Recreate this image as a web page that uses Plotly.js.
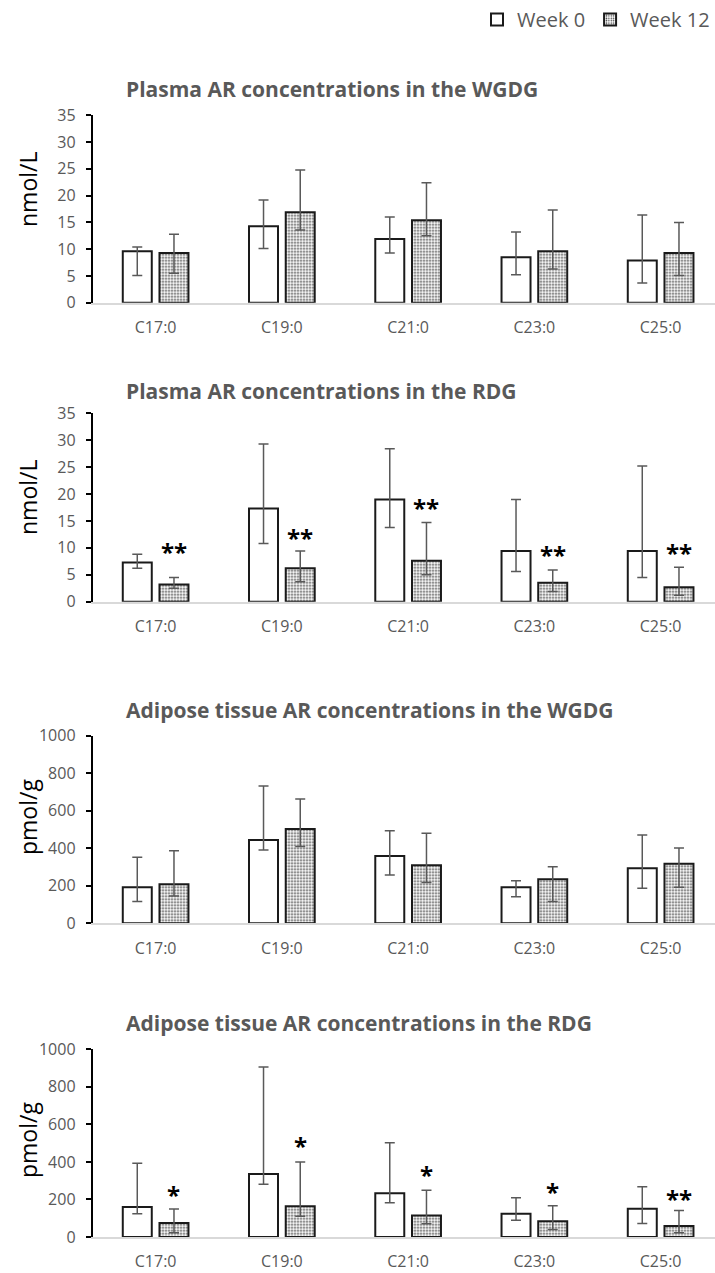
<!DOCTYPE html>
<html>
<head>
<meta charset="utf-8">
<script src="https://cdn.plot.ly/plotly-3.0.1.min.js"></script>
<style>html,body{margin:0;padding:0;background:#fff;}#chart{width:715px;height:1273px;}</style>
</head>
<body>
<div id="chart"></div>
<script>
// ---------- data ----------
const categories = ['C17:0', 'C19:0', 'C21:0', 'C23:0', 'C25:0'];
const seriesNames = ['Week 0', 'Week 12'];

// Plasma AR, WGDG (nmol/L)
const plasmaWgdgW0   = [9.6, 14.3, 11.9, 8.5, 7.9];
const plasmaWgdgW0Hi = [10.4, 19.2, 16.0, 13.2, 16.4];
const plasmaWgdgW0Lo = [5.1, 10.1, 9.3, 5.2, 3.7];
const plasmaWgdgW12   = [9.3, 16.9, 15.4, 9.6, 9.3];
const plasmaWgdgW12Hi = [12.8, 24.8, 22.4, 17.3, 15.0];
const plasmaWgdgW12Lo = [5.5, 13.6, 12.5, 6.3, 5.1];

// Plasma AR, RDG (nmol/L)
const plasmaRdgW0   = [7.3, 17.3, 19.0, 9.4, 9.4];
const plasmaRdgW0Hi = [8.8, 29.3, 28.4, 19.0, 25.2];
const plasmaRdgW0Lo = [6.2, 10.8, 13.8, 5.6, 4.5];
const plasmaRdgW12   = [3.2, 6.2, 7.6, 3.5, 2.7];
const plasmaRdgW12Hi = [4.5, 9.4, 14.7, 5.9, 6.4];
const plasmaRdgW12Lo = [2.5, 3.7, 5.0, 1.9, 1.2];
const plasmaRdgSig  = ['**', '**', '**', '**', '**'];
const plasmaRdgSigY = [10.0, 12.7, 18.2, 9.6, 9.9];

// Adipose tissue AR, WGDG (pmol/g)
const adiposeWgdgW0   = [192, 444, 359, 192, 293];
const adiposeWgdgW0Hi = [352, 732, 494, 227, 471];
const adiposeWgdgW0Lo = [116, 391, 258, 142, 187];
const adiposeWgdgW12   = [208, 503, 309, 235, 318];
const adiposeWgdgW12Hi = [387, 663, 480, 302, 401];
const adiposeWgdgW12Lo = [146, 409, 217, 116, 192];

// Adipose tissue AR, RDG (pmol/g)
const adiposeRdgW0   = [160, 335, 233, 124, 150];
const adiposeRdgW0Hi = [393, 906, 502, 209, 268];
const adiposeRdgW0Lo = [124, 281, 182, 89, 72];
const adiposeRdgW12   = [74, 164, 114, 84, 58];
const adiposeRdgW12Hi = [149, 400, 249, 166, 141];
const adiposeRdgW12Lo = [23, 110, 71, 40, 22];
const adiposeRdgSig  = ['*', '*', '*', '*', '**'];
const adiposeRdgSigY = [247, 511, 352, 263, 224];

const panelTitles = [
  'Plasma AR concentrations in the WGDG',
  'Plasma AR concentrations in the RDG',
  'Adipose tissue AR concentrations in the WGDG',
  'Adipose tissue AR concentrations in the RDG'
];
const unitLabels = ['nmol/L', 'nmol/L', 'pmol/g', 'pmol/g'];

// ---------- build ----------
const FONT = 'Open Sans, Lato, sans-serif';
const GRAY = '#595959';
const W = 715, H = 1273;
const BARGAP = 0.4186, BARGROUPGAP = 0.21;
const slot = (1 - BARGAP) / 2;

const panels = [
  {w0: [plasmaWgdgW0, plasmaWgdgW0Hi, plasmaWgdgW0Lo], w12: [plasmaWgdgW12, plasmaWgdgW12Hi, plasmaWgdgW12Lo], ymax: 35, dtick: 5, sig: null, sigY: null,
   px: {top: 115.3, bottom: 302.7, title: 89.3, ytitle: 190}},
  {w0: [plasmaRdgW0, plasmaRdgW0Hi, plasmaRdgW0Lo], w12: [plasmaRdgW12, plasmaRdgW12Hi, plasmaRdgW12Lo], ymax: 35, dtick: 5, sig: plasmaRdgSig, sigY: plasmaRdgSigY,
   px: {top: 413.3, bottom: 601.7, title: 391, ytitle: 498}},
  {w0: [adiposeWgdgW0, adiposeWgdgW0Hi, adiposeWgdgW0Lo], w12: [adiposeWgdgW12, adiposeWgdgW12Hi, adiposeWgdgW12Lo], ymax: 1000, dtick: 200, sig: null, sigY: null,
   px: {top: 735.7, bottom: 923.3, title: 710, ytitle: 817}},
  {w0: [adiposeRdgW0, adiposeRdgW0Hi, adiposeRdgW0Lo], w12: [adiposeRdgW12, adiposeRdgW12Hi, adiposeRdgW12Lo], ymax: 1000, dtick: 200, sig: adiposeRdgSig, sigY: adiposeRdgSigY,
   px: {top: 1049.3, bottom: 1237, title: 1023, ytitle: 1140}}
];

const traces = [];
const annotations = [];
const layout = {
  width: W, height: H,
  margin: {l: 0, r: 0, t: 0, b: 0},
  paper_bgcolor: '#fff', plot_bgcolor: '#fff',
  barmode: 'group', bargap: BARGAP, bargroupgap: BARGROUPGAP,
  font: {family: FONT, color: GRAY, size: 16},
  showlegend: true,
  legend: {orientation: 'h', x: 1, xanchor: 'right', y: 1, yanchor: 'top',
           font: {family: FONT, size: 20, color: GRAY}, traceorder: 'normal', itemwidth: 30,
           bgcolor: 'rgba(0,0,0,0)', tracegroupgap: 0},
  annotations: annotations
};

const plotLeft = 92.5;
const catPx = 126.25;
const xRange = [-0.5, -0.5 + (W - plotLeft) / catPx];

panels.forEach((p, i) => {
  const n = i + 1;
  const xa = 'x' + (n === 1 ? '' : n), ya = 'y' + (n === 1 ? '' : n);
  const sets = [p.w0, p.w12];
  sets.forEach((s, k) => {
    const [val, hi, lo] = s;
    traces.push({
      type: 'bar', x: categories, y: val, name: seriesNames[k],
      xaxis: xa, yaxis: ya, showlegend: i === 0, legendgroup: seriesNames[k],
      marker: k === 0
        ? {color: '#ffffff', line: {color: '#1a1a1a', width: 2}}
        : {color: '#ffffff', line: {color: '#1a1a1a', width: 2},
           pattern: {shape: '.', fgcolor: '#333333', bgcolor: '#ffffff', size: 3, solidity: 0.28}},
      error_y: {type: 'data', symmetric: false,
                array: hi.map((h, j) => h - val[j]),
                arrayminus: lo.map((l, j) => val[j] - l),
                color: GRAY, thickness: 1.5, width: 5},
      hoverinfo: 'x+y+name'
    });
  });
  const dom = [1 - p.px.bottom / H, 1 - p.px.top / H];
  layout['xaxis' + (n === 1 ? '' : n)] = {
    domain: [plotLeft / W, 1], anchor: ya, type: 'category', range: xRange,
    showline: true, linecolor: '#d9d9d9', linewidth: 2, ticks: '', showgrid: false, zeroline: false,
    tickfont: {family: FONT, size: 16, color: GRAY}, ticklabelstandoff: 9, fixedrange: true
  };
  layout['yaxis' + (n === 1 ? '' : n)] = {
    domain: dom, anchor: xa, range: [0, p.ymax], dtick: p.dtick, tick0: 0,
    showline: true, linecolor: '#000', linewidth: 1.5, ticks: 'outside', ticklen: 5, tickwidth: 1.5, tickcolor: '#000',
    showgrid: false, zeroline: false, tickfont: {family: FONT, size: 16, color: GRAY}, ticklabelstandoff: 7,
    fixedrange: true
  };
  annotations.push({
    text: panelTitles[i], xref: 'paper', yref: 'paper', x: 124 / W, xanchor: 'left',
    y: 1 - p.px.title / H, yanchor: 'middle', showarrow: false,
    font: {family: FONT, size: 21, color: GRAY, weight: 'bold'}
  });
  annotations.push({
    text: unitLabels[i], xref: 'paper', yref: 'paper', x: 28 / W, xanchor: 'center',
    y: 1 - p.px.ytitle / H, yanchor: 'middle', textangle: -90, showarrow: false,
    font: {family: FONT, size: 23, color: '#000'}
  });
  if (p.sig) {
    p.sig.forEach((t, j) => {
      annotations.push({
        text: t, xref: xa, yref: ya, x: j + slot / 2, y: p.sigY[j],
        xanchor: 'center', yanchor: 'middle', yshift: -4, showarrow: false,
        font: {family: FONT, size: 24, color: '#000', weight: 'bold'}
      });
    });
  }
});

Plotly.newPlot('chart', traces, layout, {displayModeBar: false, staticPlot: false});
</script>
</body>
</html>
